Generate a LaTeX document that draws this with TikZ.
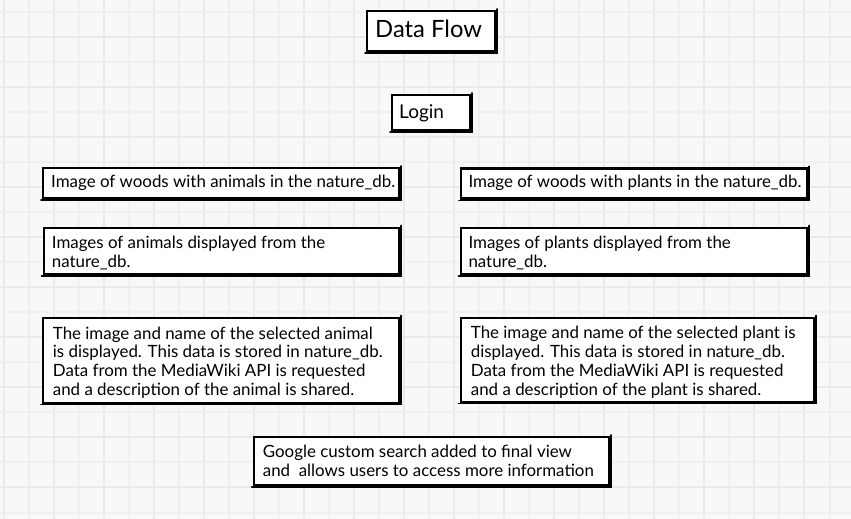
\documentclass[tikz,border=0pt]{standalone}
\usepackage{fontspec}
\setmainfont{Lato}
\definecolor{bgc}{HTML}{F8F8F8}
\definecolor{gmaj}{HTML}{EAEAEA}
\definecolor{gmin}{HTML}{F0F0F0}
\tikzset{
  sketchbox/.style={draw=black, fill=white, line width=2.2pt, rectangle, inner sep=0pt, anchor=north west},
  shadowline/.style={draw=black, line width=1.6pt, line cap=round},
  txt/.style={anchor=base west, inner sep=0pt, font=\fontsize{16.9}{18.6}\selectfont},
}
\newcommand{\boxsketch}[5]{% name, x, y, w, h
  \node[sketchbox, minimum width=#4pt, minimum height=#5pt] (#1) at (#2,#3) {};
  \draw[shadowline] ([xshift=-1pt,yshift=-0.8pt]#1.south west) -- ([xshift=0.8pt,yshift=-0.8pt]#1.south east) -- ([xshift=0.8pt,yshift=1pt]#1.north east);
}
\begin{document}
\begin{tikzpicture}[x=1pt,y=-1pt]
\useasboundingbox (0,0) rectangle (851,519);
\fill[bgc] (0,0) rectangle (851,519);
% grid
\foreach \i in {0,...,34} {
  \pgfmathsetmacro{\gx}{3.5+25.03*\i}
  \pgfmathtruncatemacro{\odd}{mod(\i,2)}
  \ifnum\odd=0
    \draw[gmaj, line width=2pt] (\gx,0) -- (\gx,519);
  \else
    \draw[gmin, line width=2pt] (\gx,0) -- (\gx,519);
  \fi
}
\foreach \i in {0,...,20} {
  \pgfmathsetmacro{\gy}{11.9+25.03*\i}
  \pgfmathtruncatemacro{\odd}{mod(\i,2)}
  \ifnum\odd=1
    \draw[gmaj, line width=2pt] (0,\gy) -- (851,\gy);
  \else
    \draw[gmin, line width=2pt] (0,\gy) -- (851,\gy);
  \fi
}
% title
\boxsketch{title}{366}{10}{128}{40}
\node[txt, font=\fontsize{23.8}{26}\selectfont] (titlet) at (375,37.7) {Data Flow};
% login
\boxsketch{login}{391}{94}{78}{35}
\node[txt, font=\fontsize{19}{21}\selectfont] (logint) at (399,118.3) {Login};
% animals column
\boxsketch{a1}{42}{167}{356}{30}
\node[txt] (a1t) at (51,187.7) {Image of woods with animals in the nature\_db.};
\boxsketch{a2}{42.5}{226.5}{355.5}{46.5}
\node[txt] (a2t) at (51.7,248.3) {\vtop{\baselineskip=19.5pt\hbox{Images of animals displayed from the}\hbox{nature\_db.}}};
\boxsketch{a3}{42}{316.5}{356}{85}
\node[txt] (a3t) at (52.7,339.3) {\vtop{\baselineskip=18.6pt\hbox{The image and name of the selected animal}\hbox{is displayed. This data is stored in nature\_db.}\hbox{Data from the MediaWiki API is requested}\hbox{and a description of the animal is shared.}}};
% plants column
\boxsketch{p1}{460}{167.3}{346}{30}
\node[txt] (p1t) at (468.3,187.7) {Image of woods with plants in the nature\_db.};
\boxsketch{p2}{459.5}{226.5}{346.5}{46.5}
\node[txt] (p2t) at (468.3,248.3) {\vtop{\baselineskip=19.3pt\hbox{Images of plants displayed from the}\hbox{nature\_db.}}};
\boxsketch{p3}{459.5}{316.5}{353.5}{84}
\node[txt] (p3t) at (470.7,338.6) {\vtop{\baselineskip=18.8pt\hbox{The image and name of the selected plant is}\hbox{displayed. This data is stored in nature\_db.}\hbox{Data from the MediaWiki API is requested}\hbox{and a description of the plant is shared.}}};
% google
\boxsketch{g}{252.7}{436}{355.3}{48}
\node[txt] (gt) at (262.7,457.3) {\vtop{\baselineskip=18.7pt\hbox{Google custom search added to final view}\hbox{and\ \ allows users to access more information}}};
\end{tikzpicture}
\end{document}
